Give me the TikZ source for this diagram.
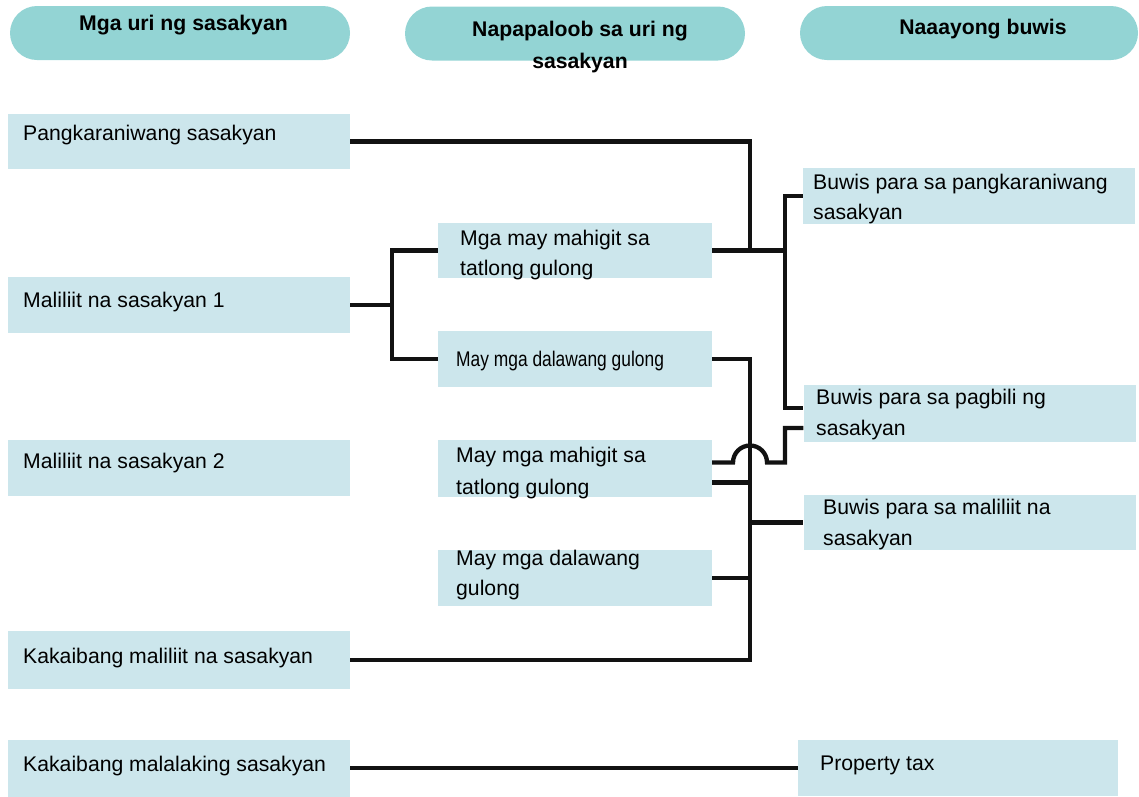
\documentclass[tikz,border=0pt]{standalone}
\usepackage{fontspec}
\setmainfont{Liberation Sans}
\usepackage{graphicx}
\definecolor{pillc}{HTML}{93D4D4}
\definecolor{boxc}{HTML}{CCE6EC}
\begin{document}
\begin{tikzpicture}[x=1pt,y=-1pt,
  pill/.style={fill=pillc, draw=none, rounded corners=27pt, minimum width=340pt, minimum height=54pt, inner sep=0pt},
  boxst/.style={fill=boxc, draw=none, inner sep=0pt},
  lbox/.style={boxst, minimum width=342pt},
  mbox/.style={boxst, minimum width=274pt},
  rbox/.style={boxst, minimum width=332pt},
  txt/.style={anchor=base west, inner sep=0pt, font=\fontsize{21.2}{30}\selectfont},
  htxt/.style={anchor=base, inner sep=0pt, font=\bfseries\fontsize{21.2}{32}\selectfont},
  conn/.style={line width=4.3pt, draw=black!93}
]
\useasboundingbox (0,0) rectangle (1139,796);

% header pills
\node[pill] (p1) at (180,33) {};
\node[pill] (p2) at (575,33.5) {};
\node[pill, minimum width=338pt] (p3) at (969,33) {};
\node[htxt] (h1) at (183.5,30) {Mga uri ng sasakyan};
\node[htxt] (h2) at (580,36) {\parbox[t]{340pt}{\centering\fontsize{21.2}{32}\selectfont Napapaloob sa uri ng\\sasakyan}};
\node[htxt] (h3) at (983,34) {Naaayong buwis};

% left boxes
\node[lbox, minimum height=55pt] (pk) at (179,141.5) {};
\node[lbox, minimum height=56pt] (m1) at (179,305) {};
\node[lbox, minimum height=56pt] (m2) at (179,468) {};
\node[lbox, minimum height=58pt] (km) at (179,660) {};
\node[lbox, minimum height=57pt] (kl) at (179,768) {};
\node[txt] (tpk) at (23,140) {Pangkaraniwang sasakyan};
\node[txt] (tm1) at (23,307) {Maliliit na sasakyan 1};
\node[txt] (tm2) at (23,468) {Maliliit na sasakyan 2};
\node[txt] (tkm) at (23,663) {Kakaibang maliliit na sasakyan};
\node[txt] (tkl) at (23,771) {Kakaibang malalaking sasakyan};

% middle boxes
\node[mbox, minimum height=55pt] (a1) at (575,250.5) {};
\node[mbox, minimum height=56pt] (a2) at (575,359) {};
\node[mbox, minimum height=57pt] (a3) at (575,468.5) {};
\node[mbox, minimum height=56pt] (a4) at (575,578) {};
\node[txt] (ta1) at (460,245) {\parbox[t]{250pt}{\fontsize{21.2}{30}\selectfont Mga may mahigit sa\\tatlong gulong}};
\node[txt] (ta2) at (456,366) {\scalebox{0.82}[1]{May mga dalawang gulong}};
\node[txt] (ta3) at (456,462) {\parbox[t]{250pt}{\fontsize{21.2}{32}\selectfont May mga mahigit sa\\tatlong gulong}};
\node[txt] (ta4) at (456,565) {\parbox[t]{250pt}{\fontsize{21.2}{30}\selectfont May mga dalawang\\gulong}};

% right boxes
\node[rbox, minimum height=56pt] (r1) at (969,196) {};
\node[rbox, minimum height=57pt] (r2) at (969.5,413.5) {};
\node[rbox, minimum height=55pt] (r3) at (969.5,522.5) {};
\node[boxst, minimum width=320pt, minimum height=56pt] (pt) at (958,768) {};
\node[txt] (tr1) at (813,189) {\parbox[t]{320pt}{\fontsize{21.2}{30}\selectfont Buwis para sa pangkaraniwang\\sasakyan}};
\node[txt] (tr2) at (816,404) {\parbox[t]{320pt}{\fontsize{21.2}{31}\selectfont Buwis para sa pagbili ng\\sasakyan}};
\node[txt] (tr3) at (823,514) {\parbox[t]{310pt}{\fontsize{21.2}{31}\selectfont Buwis para sa maliliit na\\sasakyan}};
\node[txt] (tpt) at (820,770) {Property tax};

% helper coordinates
\coordinate (xl) at (392,0);
\coordinate (xb) at (750,0);
\coordinate (xr) at (785,0);
\coordinate (a3hi) at ([yshift=6pt]a3.east);
\coordinate (a3lo) at ([yshift=-14pt]a3.east);
\coordinate (r2hi) at ([yshift=5.5pt]r2.west);
\coordinate (r2lo) at ([yshift=-14.5pt]r2.west);

% connectors
\draw[conn] (pk.east) -| (xb |- a1.east);
\draw[conn] (a1.east) -- (xr |- a1.east);
\draw[conn] (r1.west) -- (xr |- r1.west) |- (r2hi);
\draw[conn] (m1.east) -- (xl |- m1.east);
\draw[conn] (a1.west) -| (xl |- a2.west) -- (a2.west);
\draw[conn] (a2.east) -| (xb |- km.east) -- (km.east);
\draw[conn] (a3lo) -- (xb |- a3lo);
\draw[conn] (a4.east) -- (xb |- a4.east);
\draw[conn] (xb |- r3.west) -- (r3.west);
\draw[conn] (a3hi) -- (733,462.5) .. controls (733,453.1) and (740.6,445.5) .. (750,445.5)
  .. controls (759.4,445.5) and (767,453.1) .. (767,462.5) -- (xr |- a3hi) |- (r2lo);
\draw[conn] (kl.east) -- (pt.west);
\end{tikzpicture}
\end{document}
